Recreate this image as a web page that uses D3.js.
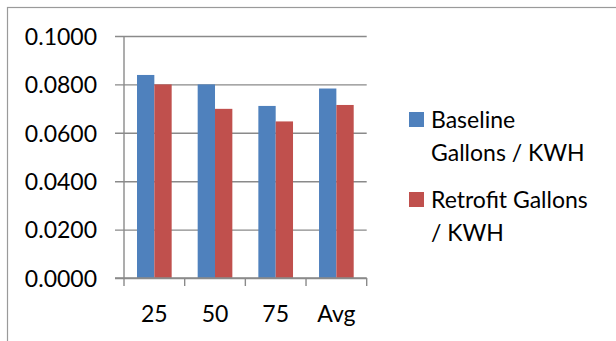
<!DOCTYPE html>
<html>
<head>
<meta charset="utf-8">
<script src="https://cdn.jsdelivr.net/npm/d3@7"></script>
<style>
  html, body { margin: 0; padding: 0; background: #fff; }
  svg { display: block; }
  text { font-family: Lato, "Open Sans", sans-serif; fill: #000; }
</style>
</head>
<body>
<svg id="chart" width="616" height="341"></svg>
<script>
// Gallons per KWH by load level
const categories = ["25", "50", "75", "Avg"];
const seriesNames = ["Baseline Gallons / KWH", "Retrofit Gallons / KWH"];
const baseline = [0.0839, 0.0800, 0.0711, 0.0783];
const retrofit = [0.0800, 0.0699, 0.0647, 0.0715];
const yTicks = [0, 0.02, 0.04, 0.06, 0.08, 0.10];
const legendLines = [["Baseline", "Gallons / KWH"], ["Retrofit Gallons", "/ KWH"]];
const colors = ["#4F81BD", "#C0504D"];

const svg = d3.select("#chart");
const plot = { left: 124, right: 366.7, top: 36, bottom: 278 };

// chart frame (extends past the window on the right and bottom)
svg.append("rect")
  .attr("x", 7.5).attr("y", 7.5)
  .attr("width", 800).attr("height", 600)
  .attr("fill", "none").attr("stroke", "#9a9a9a").attr("stroke-width", 1.2);

const y = d3.scaleLinear().domain([0, 0.1]).range([plot.bottom, plot.top]);
const x0 = d3.scaleBand().domain(categories).range([plot.left, plot.right]);
// 150% gap between groups: each bar is band / 3.5
const gap = x0.bandwidth() * 1.5 / 3.5 / 2;
const x1 = d3.scaleBand().domain(d3.range(seriesNames.length))
  .range([gap, x0.bandwidth() - gap]);

// horizontal gridlines with outward ticks and labels
const yAxis = d3.axisLeft(y).tickValues(yTicks)
  .tickSize(-(plot.right - plot.left)).tickPadding(18).tickFormat(d3.format(".4f"));
const gy = svg.append("g").attr("transform", `translate(${plot.left},0)`).call(yAxis);
gy.select(".domain").remove();
gy.selectAll(".tick line")
  .attr("x1", -9)
  .attr("stroke", "#8a8a8a").attr("stroke-width", 1.4);
gy.selectAll(".tick text")
  .attr("x", -27)
  .style("font-size", "23px").style("font-family", "Lato, 'Open Sans', sans-serif")
  .attr("fill", "#000").attr("dy", "0.36em");

// bars
const data = categories.map((c, i) => ({ cat: c, vals: [baseline[i], retrofit[i]] }));
const groups = svg.append("g").selectAll("g").data(data).join("g")
  .attr("transform", d => `translate(${x0(d.cat)},0)`);
groups.selectAll("rect").data(d => d.vals).join("rect")
  .attr("x", (d, i) => x1(i))
  .attr("width", x1.bandwidth())
  .attr("y", d => y(d))
  .attr("height", d => y(0) - y(d))
  .attr("fill", (d, i) => colors[i]);

// vertical axis line
svg.append("line")
  .attr("x1", plot.left).attr("x2", plot.left)
  .attr("y1", plot.top).attr("y2", plot.bottom)
  .attr("stroke", "#8a8a8a").attr("stroke-width", 1.4);

// category axis
const boundaries = categories.map(c => x0(c)).concat([plot.right]);
const gx = svg.append("g");
gx.append("line")
  .attr("x1", plot.left - 9).attr("x2", plot.right)
  .attr("y1", plot.bottom).attr("y2", plot.bottom)
  .attr("stroke", "#8a8a8a").attr("stroke-width", 1.4);
gx.selectAll("line.tk").data(boundaries).join("line").attr("class", "tk")
  .attr("x1", d => d).attr("x2", d => d)
  .attr("y1", plot.bottom).attr("y2", plot.bottom + 8)
  .attr("stroke", "#8a8a8a").attr("stroke-width", 1.4);
gx.selectAll("text").data(categories).join("text")
  .attr("x", d => x0(d) + x0.bandwidth() / 2)
  .attr("y", 321.5)
  .attr("text-anchor", "middle")
  .style("font-size", "23px")
  .text(d => d);

// legend
const legend = svg.append("g");
const itemTop = [112, 192];
seriesNames.forEach((name, i) => {
  const g = legend.append("g").attr("class", "legend-item").attr("data-series", name);
  g.append("rect")
    .attr("x", 409).attr("y", itemTop[i]).attr("width", 15).attr("height", 15)
    .attr("fill", colors[i]);
  legendLines[i].forEach((line, j) => {
    g.append("text")
      .attr("x", 431).attr("y", itemTop[i] + 15.5 + j * 33)
      .style("font-size", "23px")
      .text(line);
  });
});
</script>
</body>
</html>
